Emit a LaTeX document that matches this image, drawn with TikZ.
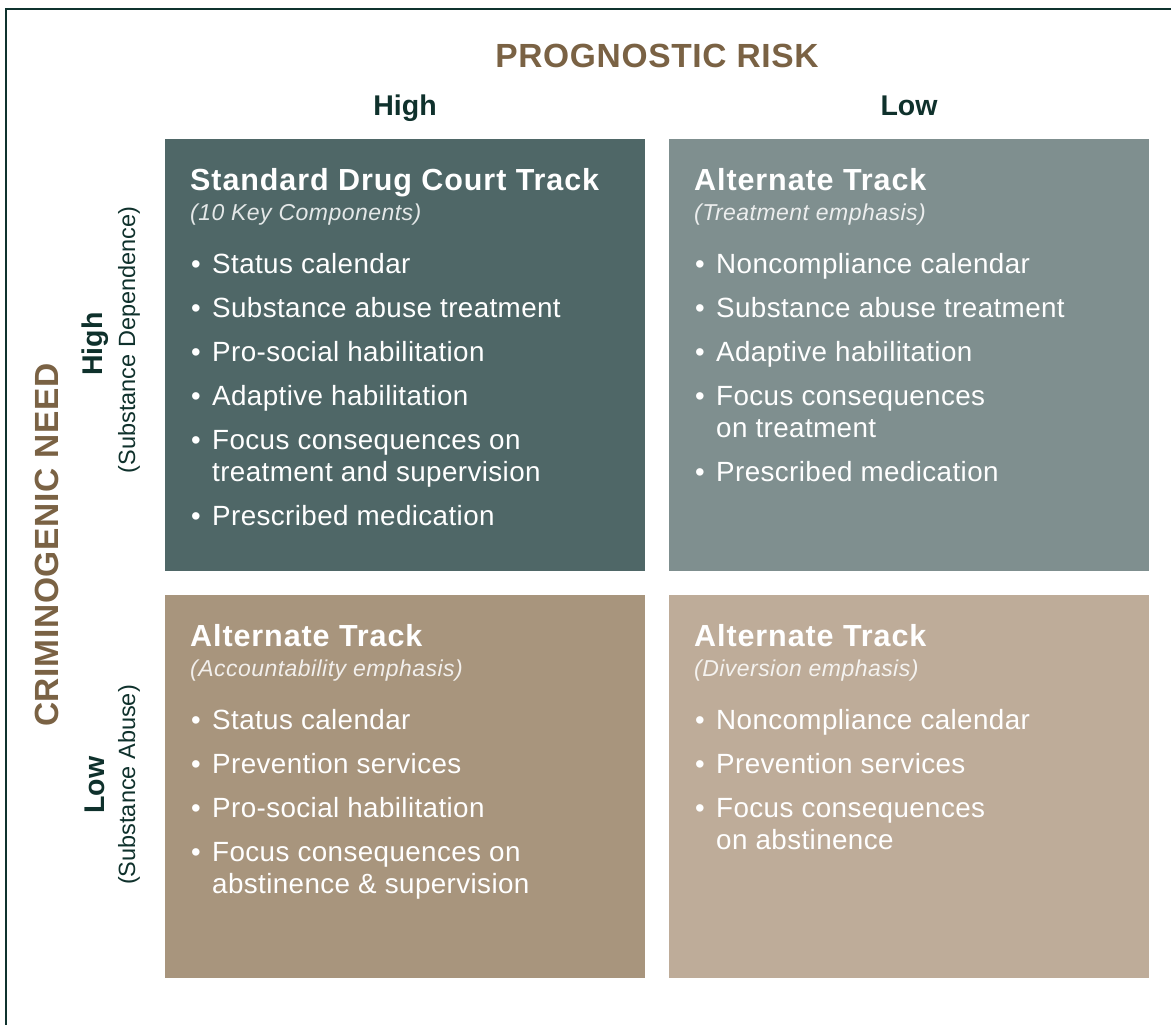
\documentclass[tikz,border=0pt]{standalone}
\usepackage{fontspec}
\setmainfont{Liberation Sans}
\newfontfamily\ttlfont[LetterSpace=3.0]{Liberation Sans}
\newfontfamily\itmfont[LetterSpace=1.4]{Liberation Sans}
\newfontfamily\subfont[LetterSpace=2.0]{Liberation Sans}
\newfontfamily\hdfont[LetterSpace=2.0]{Liberation Sans}
\definecolor{frame}{HTML}{0F332E}
\definecolor{brownhd}{HTML}{7A6244}
\definecolor{darkhd}{HTML}{0F312C}
\definecolor{cA}{HTML}{4F6767}
\definecolor{cB}{HTML}{7F8F8F}
\definecolor{cC}{HTML}{A8957D}
\definecolor{cD}{HTML}{BEAC99}
\begin{document}
\begin{tikzpicture}[x=1pt,y=-1pt,
  box/.style={draw=none,inner sep=0pt,minimum width=480pt,minimum height=#1},
  ttl/.style={anchor=base west,inner sep=0pt,text=white,font=\ttlfont\fontsize{30.5}{30.5}\selectfont\bfseries},
  sub/.style={anchor=base west,inner sep=0pt,text=white!85!#1,font=\subfont\fontsize{23}{23}\selectfont\itshape},
  itm/.style={anchor=base west,inner sep=0pt,text=white,font=\itmfont\fontsize{27.8}{27.8}\selectfont},
  bul/.style={anchor=base west,inner sep=0pt,text=white,font=\fontsize{27.5}{27.5}\selectfont},
  hd/.style={anchor=base,inner sep=0pt,text=brownhd,font=\hdfont\fontsize{33.5}{33.5}\selectfont\bfseries},
  lvl/.style={inner sep=0pt,text=darkhd,font=\fontsize{28.5}{28.5}\selectfont\bfseries},
  paren/.style={inner sep=0pt,text=darkhd,font=\fontsize{23.5}{23.5}\selectfont}
]
\useasboundingbox (0,0) rectangle (1171,1025);
% frame (open at right and bottom)
\coordinate (fr1) at (6,1025);
\coordinate (fr2) at (6,9);
\coordinate (fr3) at (1171,9);
\draw[frame,line width=2.3pt] (fr1) -- (fr2) -- (fr3);

% boxes
\node[box=432pt,fill=cA] (b1) at (405,355) {};
\node[box=432pt,fill=cB] (b2) at (909,355) {};
\node[box=383pt,fill=cC] (b3) at (405,786.5) {};
\node[box=383pt,fill=cD] (b4) at (909,786.5) {};

% headings
\node[hd] (prisk) at (657,67) {PROGNOSTIC RISK};
\node[lvl,anchor=base] (hhigh) at (405,116) {High};
\node[lvl,anchor=base] (hlow) at (909,116) {Low};
\node[hd,rotate=90,anchor=center] (cneed) at (47,545) {CRIMINOGENIC NEED};
\node[lvl,rotate=90,anchor=center] (vhigh) at (95,344) {High};
\node[paren,rotate=90,anchor=center] (vhighs) at (129,340) {(Substance Dependence)};
\node[lvl,rotate=90,anchor=center] (vlow) at (95,785) {Low};
\node[paren,rotate=90,anchor=center] (vlows) at (129,785) {(Substance Abuse)};

% box 1
\node[ttl] (t1) at (190,190) {Standard Drug Court Track};
\node[sub=cA] (s1) at (190,220) {(10 Key Components)};
\node[bul] (a1b) at (191,273) {•};\node[itm] (a1) at (212,273) {Status calendar};
\node[bul] (a2b) at (191,317) {•};\node[itm] (a2) at (212,317) {Substance abuse treatment};
\node[bul] (a3b) at (191,361) {•};\node[itm] (a3) at (212,361) {Pro-social habilitation};
\node[bul] (a4b) at (191,405) {•};\node[itm] (a4) at (212,405) {Adaptive habilitation};
\node[bul] (a5b) at (191,449) {•};\node[itm] (a5) at (212,449) {Focus consequences on};
\node[itm] (a5c) at (212,481) {treatment and supervision};
\node[bul] (a6b) at (191,525) {•};\node[itm] (a6) at (212,525) {Prescribed medication};

% box 2
\node[ttl] (t2) at (694,190) {Alternate Track};
\node[sub=cB] (s2) at (694,220) {(Treatment emphasis)};
\node[bul] (b1b) at (695,273) {•};\node[itm] (bb1) at (716,273) {Noncompliance calendar};
\node[bul] (b2b) at (695,317) {•};\node[itm] (bb2) at (716,317) {Substance abuse treatment};
\node[bul] (b3b) at (695,361) {•};\node[itm] (bb3) at (716,361) {Adaptive habilitation};
\node[bul] (b4b) at (695,405) {•};\node[itm] (bb4) at (716,405) {Focus consequences};
\node[itm] (bb4c) at (716,437) {on treatment};
\node[bul] (b5b) at (695,481) {•};\node[itm] (bb5) at (716,481) {Prescribed medication};

% box 3
\node[ttl] (t3) at (190,646) {Alternate Track};
\node[sub=cC] (s3) at (190,676) {(Accountability emphasis)};
\node[bul] (c1b) at (191,729) {•};\node[itm] (c1) at (212,729) {Status calendar};
\node[bul] (c2b) at (191,773) {•};\node[itm] (c2) at (212,773) {Prevention services};
\node[bul] (c3b) at (191,817) {•};\node[itm] (c3) at (212,817) {Pro-social habilitation};
\node[bul] (c4b) at (191,861) {•};\node[itm] (c4) at (212,861) {Focus consequences on};
\node[itm] (c4c) at (212,893) {abstinence \& supervision};

% box 4
\node[ttl] (t4) at (694,646) {Alternate Track};
\node[sub=cD] (s4) at (694,676) {(Diversion emphasis)};
\node[bul] (d1b) at (695,729) {•};\node[itm] (d1) at (716,729) {Noncompliance calendar};
\node[bul] (d2b) at (695,773) {•};\node[itm] (d2) at (716,773) {Prevention services};
\node[bul] (d3b) at (695,817) {•};\node[itm] (d3) at (716,817) {Focus consequences};
\node[itm] (d3c) at (716,849) {on abstinence};
\end{tikzpicture}
\end{document}
